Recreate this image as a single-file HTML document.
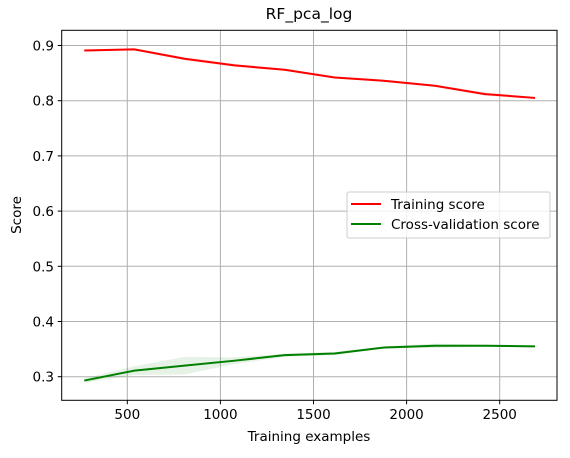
<!DOCTYPE html>
<html><head><meta charset="utf-8"><style>
body{margin:0;background:#fff}
svg text{font-family:"DejaVu Sans","Liberation Sans",sans-serif;fill:#000}
</style></head><body>
<svg id="chart" width="570" height="453" xmlns="http://www.w3.org/2000/svg">
<rect x="0" y="0" width="570" height="453" fill="#fff"/>
<g id="grid"></g>
<g id="bands"></g>
<g id="lines"></g>
<rect x="61.7" y="30.3" width="495.3" height="370" fill="none" stroke="#000" stroke-width="1"/>
<g id="ticks"></g>
<text x="309" y="19" font-size="15.5" text-anchor="middle">RF_pca_log</text>
<text x="309" y="441" font-size="13.5" text-anchor="middle">Training examples</text>
<text x="0" y="0" font-size="13.5" text-anchor="middle" transform="translate(21,215) rotate(-90)">Score</text>
<g>
<rect x="347" y="192" width="203" height="46" rx="2" fill="#fff" fill-opacity="0.8" stroke="#ccc"/>
<line x1="351" y1="204" x2="381" y2="204" stroke="#ff0000" stroke-width="2"/>
<text x="391" y="209" font-size="13.5">Training score</text>
<line x1="351" y1="224" x2="381" y2="224" stroke="#008000" stroke-width="2"/>
<text x="391" y="229" font-size="13.5">Cross-validation score</text>
</g>
</svg>
<script>
const sizes=[269,538,807,1076,1345,1614,1883,2152,2421,2690];
const trainMean=[0.891,0.893,0.876,0.864,0.856,0.842,0.836,0.827,0.812,0.805];
const trainStd=[0.002,0.002,0.003,0.003,0.002,0.002,0.002,0.002,0.003,0.002];
const cvMean=[0.293,0.311,0.320,0.329,0.339,0.342,0.353,0.356,0.356,0.355];
const cvStd=[0.004,0.008,0.016,0.006,0.003,0.003,0.002,0.004,0.002,0.001];
const xTicks=[500,1000,1500,2000,2500];
const yTicks=[0.3,0.4,0.5,0.6,0.7,0.8,0.9];
const NS='http://www.w3.org/2000/svg';
function sx(v){return 127.3+(v-500)*93.1/500;}
function sy(v){return 376.7-(v-0.3)*552;}
function mk(tag,attrs,parent){const e=document.createElementNS(NS,tag);for(const k in attrs)e.setAttribute(k,attrs[k]);document.getElementById(parent).appendChild(e);return e;}
xTicks.forEach(t=>{
 const g=mk('line',{x1:sx(t),x2:sx(t),y1:30.3,y2:400.3,stroke:'#b0b0b0','stroke-width':1},'grid');
 
 
 const tk=mk('line',{x1:sx(t),x2:sx(t),y1:400.3,y2:404.3,stroke:'#000','stroke-width':1},'ticks');
 
 
 const tx=mk('text',{x:sx(t),y:419,'font-size':13.5,'text-anchor':'middle'},'ticks');
 tx.textContent=t;
 
 
});
yTicks.forEach(t=>{
 const g=mk('line',{x1:61.7,x2:557,y1:sy(t),y2:sy(t),stroke:'#b0b0b0','stroke-width':1},'grid');
 
 
 const tk=mk('line',{x1:57.7,x2:61.7,y1:sy(t),y2:sy(t),stroke:'#000','stroke-width':1},'ticks');
 
 
 const tx=mk('text',{x:54,y:sy(t)+5,'font-size':13.5,'text-anchor':'end'},'ticks');
 tx.textContent=t.toFixed(1);
 
 
});
function band(mean,std,color,name){
 let up=sizes.map((s,i)=>sx(s)+','+sy(mean[i]+std[i]));
 let dn=sizes.map((s,i)=>sx(s)+','+sy(mean[i]-std[i])).reverse();
 const p=mk('polygon',{points:up.concat(dn).join(' '),fill:color,'fill-opacity':0.1},'bands');
 
 
}
function line(mean,color,name){
 const p=mk('polyline',{points:sizes.map((s,i)=>sx(s)+','+sy(mean[i])).join(' '),fill:'none',stroke:color,'stroke-width':2},'lines');
 
 
}
band(trainMean,trainStd,'#ff0000','training-score-band');
band(cvMean,cvStd,'#008000','cv-score-band');
line(trainMean,'#ff0000','training-score-line');
line(cvMean,'#008000','cv-score-line');
</script>
</body></html>
